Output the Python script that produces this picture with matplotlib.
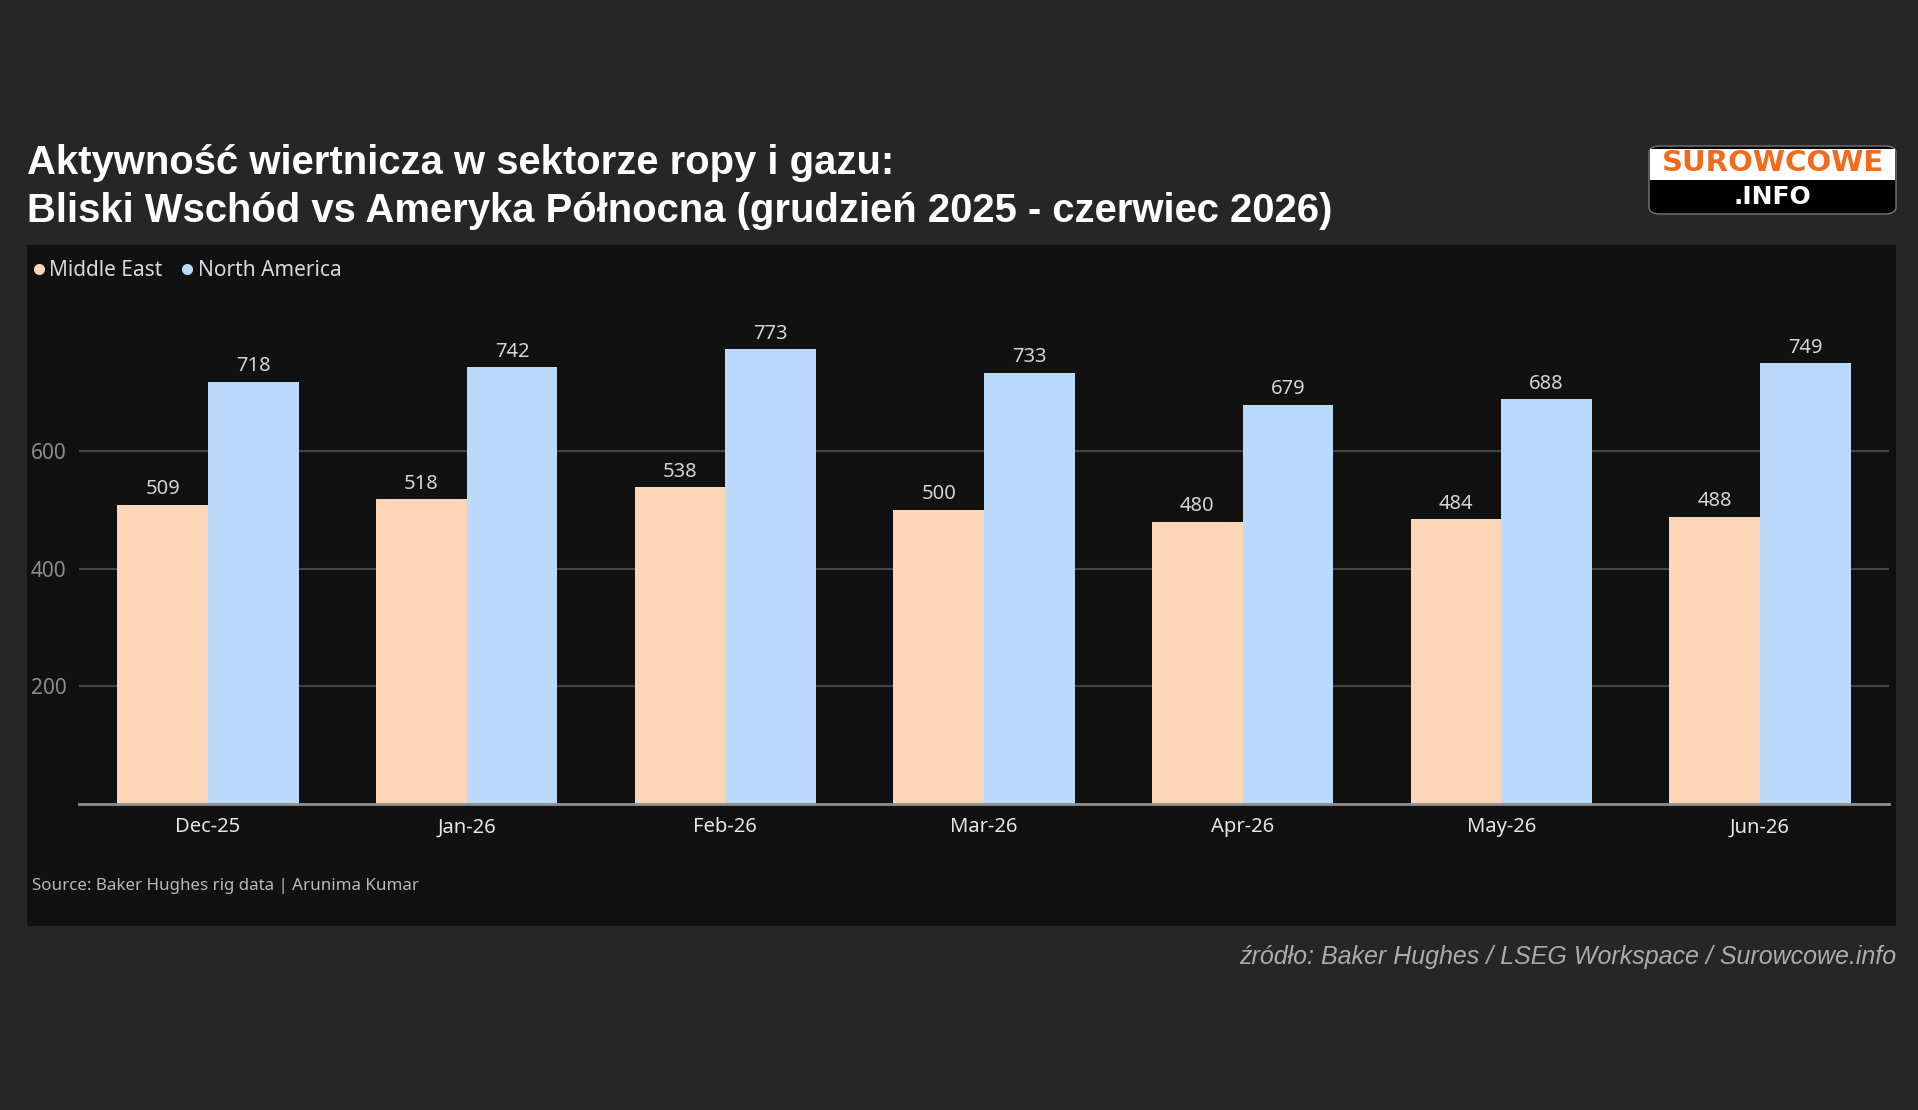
import matplotlib
matplotlib.use("Agg")
import matplotlib.pyplot as plt
import numpy as np
from matplotlib.patches import Rectangle, FancyBboxPatch
from matplotlib.lines import Line2D
from matplotlib.transforms import blended_transform_factory, ScaledTranslation

# ---- data ----
months = ["Dec-25", "Jan-26", "Feb-26", "Mar-26", "Apr-26", "May-26", "Jun-26"]
series_names = ["Middle East", "North America"]
middle_east = [509, 518, 538, 500, 480, 484, 488]
north_america = [718, 742, 773, 733, 679, 688, 749]
y_ticks = [200, 400, 600]

title = ("Aktywność wiertnicza w sektorze ropy i gazu:\n"
         "Bliski Wschód vs Ameryka Północna (grudzień 2025 - czerwiec 2026)")
source_txt = "Source: Baker Hughes rig data | Arunima Kumar"
footer_txt = "źródło: Baker Hughes / LSEG Workspace / Surowcowe.info"

# ---- style ----
W, H = 1918, 1110
BG = "#262626"
PANEL = "#111111"
C_ME = "#FDD5B7"
C_NA = "#BBDAFB"
CHART_FONT = ["Noto Sans", "DejaVu Sans"]
TITLE_FONT = ["Liberation Sans", "DejaVu Sans"]

fig = plt.figure(figsize=(W / 100, H / 100), dpi=100, facecolor=BG)

def fx(px):
    return px / W

def fy(py):
    return 1 - py / H

# inner panel
fig.patches.append(Rectangle((fx(27), fy(926)), fx(1896) - fx(27), fy(245) - fy(926),
                             transform=fig.transFigure, facecolor=PANEL, edgecolor="none", zorder=-10))

# title
fig.text(fx(27), fy(144), title, ha="left", va="top", fontsize=28.8, fontweight="bold",
         color="white", family=TITLE_FONT, linespacing=1.32)

# logo
lx0, lx1, ly0, ly1 = 1649, 1896, 146, 214
fig.patches.append(FancyBboxPatch((fx(lx0), fy(ly1)), fx(lx1) - fx(lx0), fy(ly0) - fy(ly1),
                                  boxstyle="round,pad=0,rounding_size=0.006", transform=fig.transFigure,
                                  facecolor="black", edgecolor="#777777", linewidth=1, zorder=1))
fig.patches.append(Rectangle((fx(lx0 + 1), fy(180)), fx(lx1 - 1) - fx(lx0 + 1), fy(ly0 + 3) - fy(180),
                             transform=fig.transFigure, facecolor="white", edgecolor="none", zorder=2))
fig.text(fx((lx0 + lx1) / 2), fy(163), "SUROWCOWE", ha="center", va="center", fontsize=21,
         fontweight="bold", color="#F26A1B", family=["DejaVu Sans"], zorder=3)
fig.text(fx((lx0 + lx1) / 2), fy(197), ".INFO", ha="center", va="center", fontsize=18,
         fontweight="bold", color="white", family=["DejaVu Sans"], zorder=3)

# axes
ax_left, ax_right = 78.7, 1889.3
ymax = 875
px_per_unit = (804 - 451) / 600
ax_bottom_px = 804
ax_top_px = 804 - ymax * px_per_unit
ax = fig.add_axes([fx(ax_left), fy(ax_bottom_px), fx(ax_right) - fx(ax_left), fy(ax_top_px) - fy(ax_bottom_px)])
ax.set_facecolor("none")

x = np.arange(len(months))
bw = 0.35
b1 = ax.bar(x - bw / 2, middle_east, width=bw, color=C_ME, label=series_names[0], zorder=3)
b2 = ax.bar(x + bw / 2, north_america, width=bw, color=C_NA, label=series_names[1], zorder=3)

for bars in (b1, b2):
    ax.bar_label(bars, padding=4, color="#d4d4d4", fontsize=14.5, family=CHART_FONT)

ax.set_xlim(-0.5, len(months) - 0.5)
ax.set_ylim(0, ymax)
ax.set_yticks(y_ticks)
ax.yaxis.grid(True, color="#444444", linewidth=1.5, zorder=0)
ax.set_axisbelow(True)
ax.tick_params(axis="y", length=0, labelleft=False)
trans = blended_transform_factory(fig.transFigure, ax.transData) + ScaledTranslation(0, -2.5 / 100, fig.dpi_scale_trans)
for t in y_ticks:
    fig.text(fx(31), t, str(t), transform=trans, ha="left", va="center", fontsize=15,
             color="#8c8c8c", family=CHART_FONT)

ax.set_xticks(x)
ax.set_xticklabels(months, fontsize=14.5, color="#e6e6e6", family=CHART_FONT)
ax.tick_params(axis="x", length=0, pad=9.5)

for s in ["top", "right", "left"]:
    ax.spines[s].set_visible(False)
ax.spines["bottom"].set_color("#8f8f8f")
ax.spines["bottom"].set_linewidth(2)
ax.spines["bottom"].set_zorder(4)

# legend
handles = [Line2D([], [], marker="o", linestyle="none", markersize=8, color=c, markeredgewidth=0)
           for c in (C_ME, C_NA)]
leg = fig.legend(handles, series_names, loc="center left", bbox_to_anchor=(fx(26), fy(270.5)),
                 ncol=2, frameon=False, handletextpad=-0.1, columnspacing=0.6, handlelength=1.2,
                 borderpad=0, borderaxespad=0, prop={"family": CHART_FONT, "size": 15})
for t in leg.get_texts():
    t.set_color("#d8d8d8")

# source inside panel
fig.text(fx(32), fy(885.5), source_txt, ha="left", va="center", fontsize=12.2, color="#b8b8b8",
         family=CHART_FONT)

# footer
fig.text(fx(1896), fy(957), footer_txt, ha="right", va="center", fontsize=18, style="italic",
         color="#ababab", family=TITLE_FONT)

fig.savefig("out.png", dpi=100, facecolor=BG)
